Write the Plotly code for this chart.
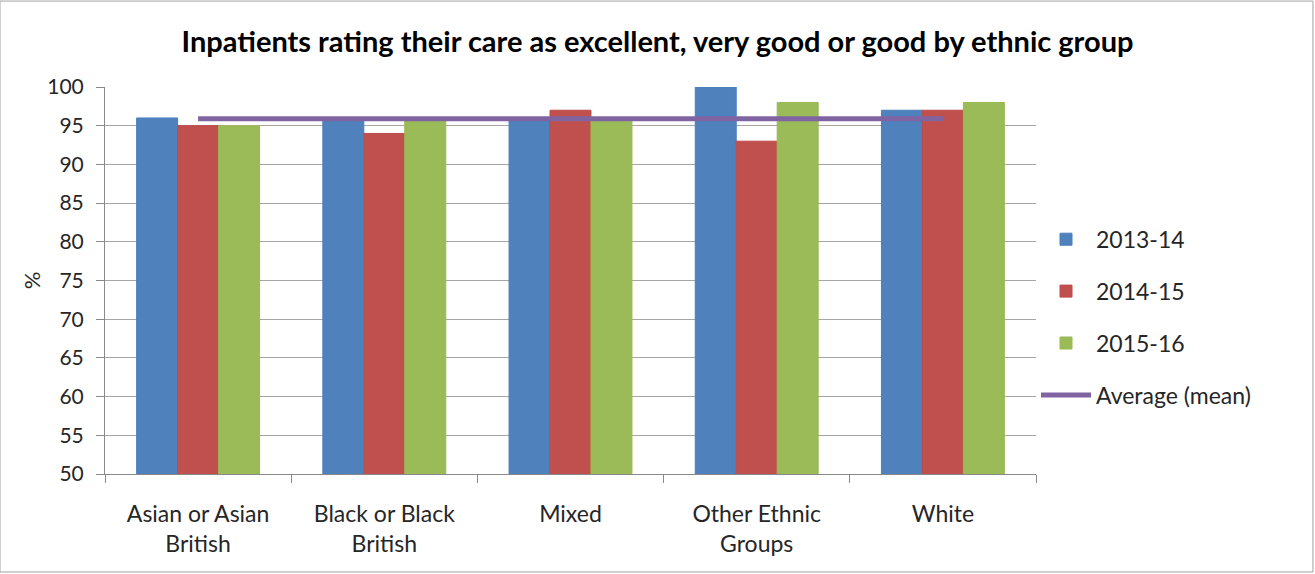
import plotly.graph_objects as go

categories = ["Asian or Asian<br>British", "Black or Black<br>British", "Mixed", "Other Ethnic<br>Groups", "White"]
y2013 = [96, 96, 96, 100, 97]
y2014 = [95, 94, 97, 93, 97]
y2015 = [95, 96, 96, 98, 98]
avg = [95.9, 95.9, 95.9, 95.9, 95.9]
y_ticks = list(range(50, 101, 5))

FONT = "Lato"
fig = go.Figure()
fig.add_bar(x=categories, y=y2013, name="2013-14", marker=dict(color="#4F81BD", line=dict(color="#4A7EBB", width=1)), legendgroup="a")
fig.add_bar(x=categories, y=y2014, name="2014-15", marker=dict(color="#C0504D", line=dict(color="#BE4B48", width=1)), legendgroup="b")
fig.add_bar(x=categories, y=y2015, name="2015-16", marker=dict(color="#9BBB59", line=dict(color="#98B954", width=1)), legendgroup="c")
fig.add_scatter(x=categories, y=avg, name="Average (mean)", mode="lines", line=dict(color="#8064A2", width=5), legendgroup="d")

fig.update_layout(
    width=1315, height=574,
    margin=dict(l=105, r=279, t=87, b=100),
    paper_bgcolor="white", plot_bgcolor="white",
    barmode="group", bargap=0.34, bargroupgap=0,
    font=dict(family=FONT, size=21, color="#262626"),
    title=dict(text="<b>Inpatients rating their care as excellent, very good or good by ethnic group</b>",
               x=0.5, xanchor="center", y=0.927, yanchor="middle", font=dict(size=29, color="#000000")),
    legend=dict(x=1.0, xanchor="left", y=0.405, yanchor="middle", font=dict(size=23),
                traceorder="grouped", tracegroupgap=19, itemwidth=50),
    showlegend=True,
)
fig.update_xaxes(type="category", showline=True, linecolor="#898989", linewidth=1,
                 ticks="outside", tickson="boundaries", ticklen=8, tickcolor="#898989",
                 tickfont=dict(size=23), showgrid=False, ticklabelstandoff=19)
fig.update_yaxes(range=[50, 100], tickvals=y_ticks, showline=True, linecolor="#898989", linewidth=1,
                 ticks="outside", ticklen=8, tickcolor="#898989", gridcolor="#A6A6A6", gridwidth=1,
                 tickfont=dict(size=21), ticklabelstandoff=8,
                 title=dict(text="%", font=dict(size=22), standoff=0))
fig.add_shape(type="rect", xref="paper", yref="paper", x0=-0.1128, x1=1.2975, y0=-0.2532, y1=1.222,
              line=dict(color="#A0A0A0", width=1), layer="below")
fig.write_html("out.html")
